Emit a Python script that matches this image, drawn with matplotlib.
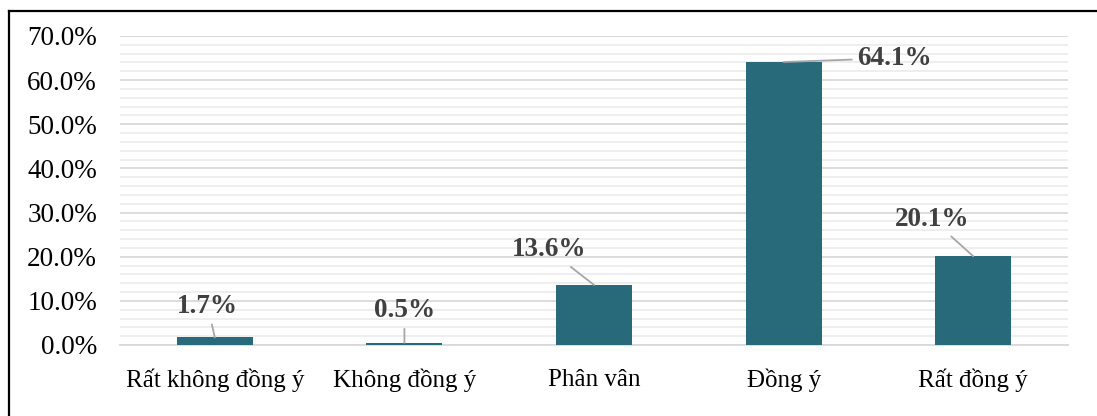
import matplotlib
matplotlib.use("Agg")
import matplotlib.pyplot as plt
from matplotlib.lines import Line2D
from matplotlib.ticker import MultipleLocator, FuncFormatter

categories = ["Rất không đồng ý", "Không đồng ý", "Phân vân", "Đồng ý", "Rất đồng ý"]
values = [1.7, 0.5, 13.6, 64.1, 20.1]
labels = ["1.7%", "0.5%", "13.6%", "64.1%", "20.1%"]
# label offsets from bar top, in pixels
offsets = [(-7, 31), (0, 32), (-45, 35), (111, 4), (-41, 37)]

plt.rcParams['font.family'] = ['Liberation Serif', 'DejaVu Serif']

fig = plt.figure(figsize=(10.97, 4.16), dpi=100)
ax = fig.add_axes([0.1094, 0.1707, 0.8642, 0.7428])

x = range(len(categories))
bars = ax.bar(x, values, width=0.4, color="#286A7A", zorder=3)

ax.set_xlim(-0.5, len(categories) - 0.5)
ax.set_ylim(0, 70)
ax.yaxis.set_major_locator(MultipleLocator(10))
ax.yaxis.set_minor_locator(MultipleLocator(2))
ax.yaxis.set_major_formatter(FuncFormatter(lambda v, p: f"{v:.1f}%"))
ax.grid(axis="y", which="major", color="#D9D9D9", linewidth=1.3, zorder=0)
ax.grid(axis="y", which="minor", color="#EDEDED", linewidth=1.3, zorder=0)

ax.set_xticks(list(x))
ax.set_xticklabels(categories)
ax.tick_params(axis="both", which="both", length=0, colors="#000000")
ax.tick_params(axis="y", labelsize=19.5, pad=16.5)
ax.tick_params(axis="x", labelsize=18, pad=17)

for s in ["top", "right", "left"]:
    ax.spines[s].set_visible(False)
ax.spines["bottom"].set_color("#D9D9D9")
ax.spines["bottom"].set_linewidth(1.3)

for i, (v, lab, off) in enumerate(zip(values, labels, offsets)):
    ax.annotate(lab, xy=(i, v), xytext=off, textcoords="offset pixels",
                ha="center", va="center", fontsize=19.5, fontweight="bold",
                color="#404040", zorder=5,
                arrowprops=dict(arrowstyle="-", color="#A6A6A6", lw=1.3,
                                shrinkA=2, shrinkB=0))

# outer frame (left and top edges)
fl = 9 / 1097
ft = 1 - 11 / 416
fig.add_artist(Line2D([fl, fl], [0, ft], color="black", lw=1.6, transform=fig.transFigure))
fig.add_artist(Line2D([fl, 1], [ft, ft], color="black", lw=1.6, transform=fig.transFigure))

fig.savefig("out.png", dpi=100)
